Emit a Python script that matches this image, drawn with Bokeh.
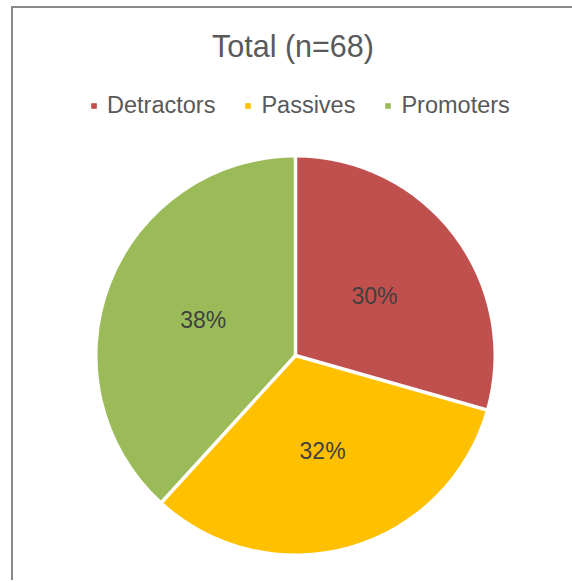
import numpy as np
from bokeh.plotting import figure
from bokeh.models import ColumnDataSource, Range1d, Legend, LegendItem
from bokeh.core.properties import value
from bokeh.embed import file_html
from bokeh.resources import INLINE

# ---- data ----
title_text = "Total (n=68)"
categories = ["Detractors", "Passives", "Promoters"]
counts = [20, 22, 26]
pct_labels = ["30%", "32%", "38%"]
colors = ["#C0504D", "#FFC000", "#9BBB59"]

# ---- layout constants (page pixels) ----
TOP_BORDER = 59            # space above the frame (title lives here)
FW, FH = 559, 513          # frame size
TOP = 8 + TOP_BORDER       # page y of frame top
LEFT = 13                  # page x of frame left
CX_PAGE, CY_PAGE, R = 295, 355, 198

total = sum(counts)
fracs = np.array(counts, dtype=float) / total
ends = np.cumsum(fracs)
starts = ends - fracs
start_angle = np.pi / 2 - starts * 2 * np.pi
end_angle = np.pi / 2 - ends * 2 * np.pi
mid = (start_angle + end_angle) / 2

cx = CX_PAGE - LEFT
cy = FH - (CY_PAGE - TOP)

src = ColumnDataSource(dict(
    cat=categories, start=start_angle, end=end_angle, color=colors,
    lx=cx + 0.5 * R * np.cos(mid), ly=cy + 0.5 * R * np.sin(mid), lab=pct_labels,
))

p = figure(frame_width=FW, frame_height=FH, output_backend="svg", toolbar_location=None,
           x_range=Range1d(0, FW), y_range=Range1d(0, FH), min_border=0,
           min_border_top=TOP_BORDER, title=title_text)
p.axis.visible = False
p.grid.visible = False
p.outline_line_color = None
p.background_fill_color = "white"
p.border_fill_color = "white"
p.styles = {"border-left": "2px solid #898989", "border-top": "2px solid #898989",
            "margin-left": "11px", "margin-top": "6px"}

p.title.align = "center"
p.title.text_font = "Liberation Sans"
p.title.text_font_style = "normal"
p.title.text_font_size = "30.5px"
p.title.text_color = "#595959"

r = p.wedge(x=cx, y=cy, radius=R, start_angle="start", end_angle="end", direction="clock",
            fill_color="color", line_color=None, source=src)
# white separators between slices
p.ray(x=cx, y=cy, length=R + 2, angle="start", source=src, line_color="white", line_width=3.5)

p.text(x="lx", y="ly", text="lab", source=src, text_align="center", text_baseline="middle",
       text_font=value("Liberation Sans"), text_font_size="23px", text_color="#404040")

items = [LegendItem(label=c, renderers=[r], index=i) for i, c in enumerate(categories)]
legend = Legend(items=items, orientation="horizontal",
                location=(90 - LEFT, FH - (119 - TOP)),
                glyph_width=7, glyph_height=7, label_standoff=10, spacing=29, padding=0, margin=0,
                border_line_color=None, background_fill_alpha=0,
                label_text_font="Liberation Sans", label_text_font_size="23.5px",
                label_text_color="#595959")
p.add_layout(legend, "center")

open("out.html", "w").write(file_html(p, INLINE))
